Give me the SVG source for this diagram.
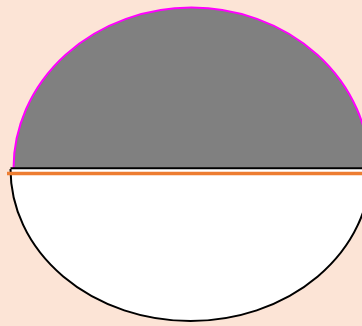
<svg xmlns="http://www.w3.org/2000/svg" width="362" height="326" viewBox="0 0 362 326">
  <style>
    .upper { fill: #808080; stroke: none; }
    .upper-edge { fill: none; stroke: #ff00ff; stroke-width: 2; }
    .lower { fill: #ffffff; stroke: #000000; stroke-width: 2; }
    .divider { stroke: #000000; stroke-width: 2; }
    .orange { stroke: #ed7d31; stroke-width: 3.5; }
  </style>
  <rect x="0" y="0" width="362" height="326" fill="#fce4d6"/>
  <g id="upper-half">
    <path class="upper" d="M 13.5,168.5 A 178 161 0 0 1 369.5,168.5 Z"/>
    <path class="upper-edge" d="M 13.5,168.5 A 178 161 0 0 1 369.5,168.5"/>
  </g>
  <g id="lower-half">
    <path class="lower" d="M 10.5,169 A 180 152 0 0 0 370.5,169"/>
    <line class="divider" x1="10.5" y1="168.3" x2="362" y2="168.3"/>
  </g>
  <g id="connectors">
    <line class="orange" x1="7" y1="173.5" x2="362" y2="173.5"/>
  </g>
</svg>
